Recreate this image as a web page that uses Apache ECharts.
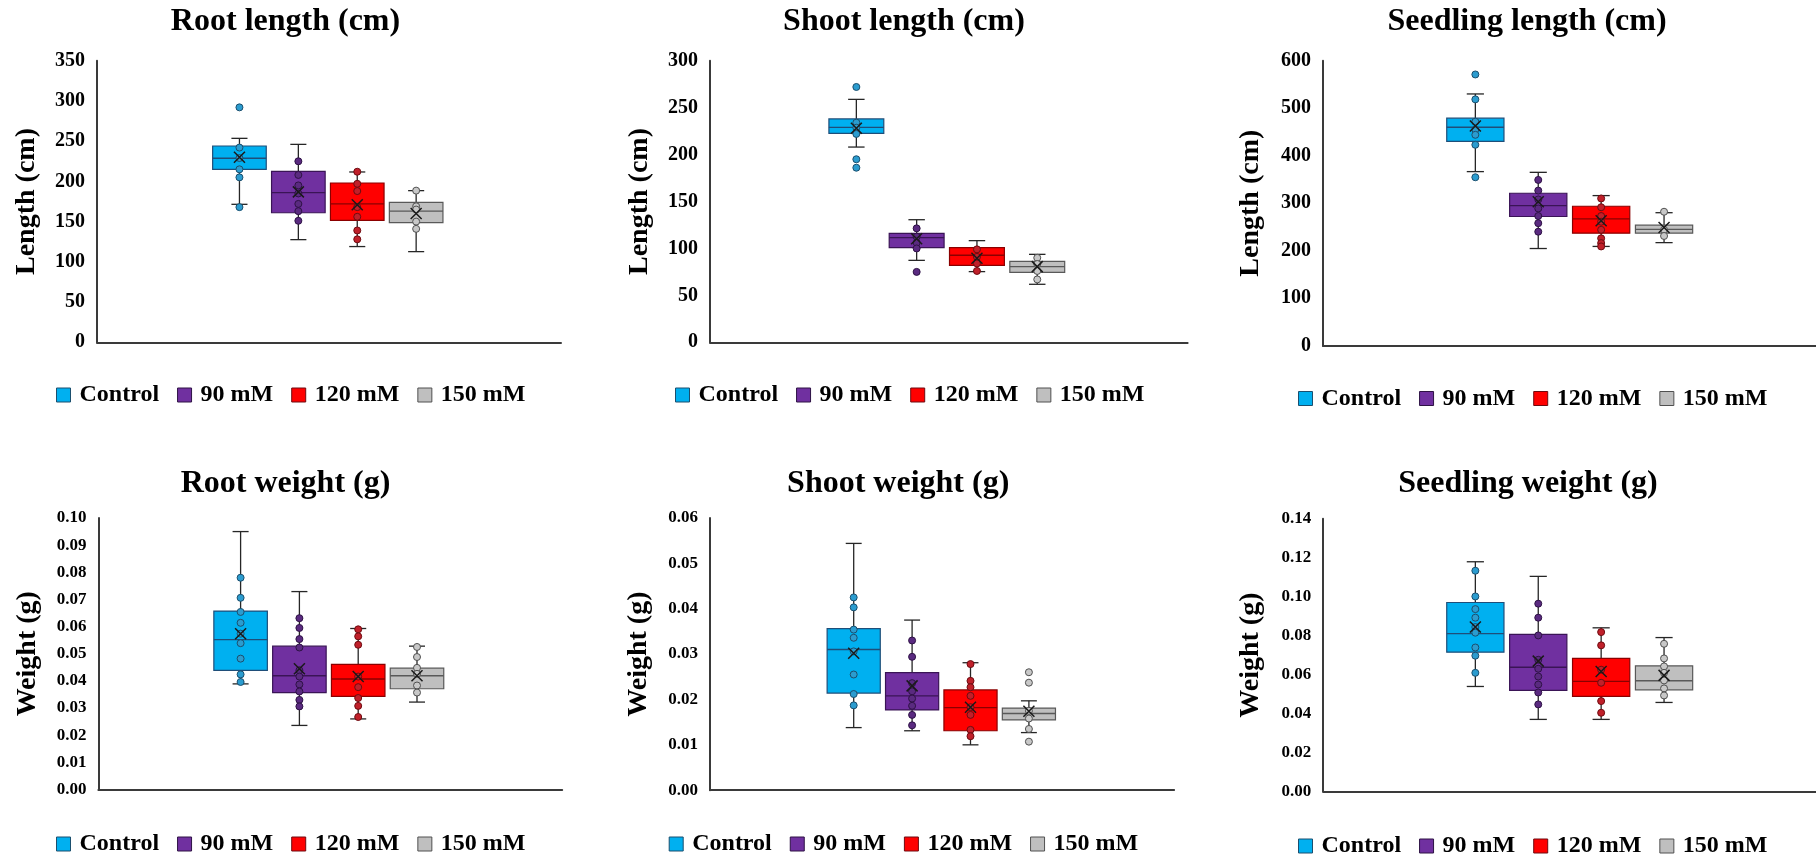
<!DOCTYPE html>
<html>
<head>
<meta charset="utf-8">
<script src="https://cdn.jsdelivr.net/npm/echarts@6/dist/echarts.min.js"></script>
<style>html,body{margin:0;padding:0;background:#fff;}#c{width:1816px;height:857px;}</style>
</head>
<body>
<div id="c"></div>
<script>
// ---------- DATA ----------
const groups = ['Control', '90 mM', '120 mM', '150 mM'];

// box: [lower whisker, Q1, median, Q3, upper whisker]
const rootLenBox = [[171.5, 215, 228.7, 244, 253.5], [127.6, 161, 186, 212.5, 246], [119, 151.6, 172, 198, 211.7], [112.7, 148.7, 163, 174, 188.5]];
const rootLenMean = [230, 187, 171, 160];
const rootLenPts = [[292, 242, 229, 215, 205, 168], [225, 208, 195, 185, 172, 163, 151], [212, 197, 188, 168, 156, 139, 128], [188.5, 169, 165, 150, 141]];

const shootLenBox = [[208, 222.6, 229, 238, 258.8], [87.3, 100.8, 111.5, 116, 130.6], [75.3, 82, 92.7, 100.8, 108.3], [61.8, 74.5, 80.6, 86.3, 93.7]];
const shootLenMean = [228, 110.4, 89.5, 80.6];
const shootLenPts = [[272, 234, 228.6, 222, 195, 186], [121.4, 112.5, 106, 100, 75], [99, 91, 84, 76], [90, 83.4, 76, 67]];

const seedLenBox = [[366.5, 430, 460, 479, 530], [204.6, 272, 295, 321, 365], [209, 237, 267, 293.6, 316], [217, 237, 245, 253.7, 280]];
const seedLenMean = [462.5, 303, 263, 249];
const seedLenPts = [[571, 518.6, 471.6, 455, 444, 423, 354.6], [349, 326.6, 308, 289, 273, 258, 240], [310, 291.5, 273, 261, 244, 226, 216, 209], [282, 244, 231]];

const rootWtBox = [[0.0389, 0.0439, 0.0552, 0.0657, 0.0950], [0.0236, 0.0357, 0.0419, 0.0528, 0.0729], [0.0260, 0.0343, 0.0407, 0.0461, 0.0593], [0.0322, 0.0371, 0.0419, 0.0447, 0.0528]];
const rootWtMean = [0.0574, 0.0445, 0.0416, 0.0419];
const rootWtPts = [[0.078, 0.0706, 0.0654, 0.0614, 0.0574, 0.0539, 0.0482, 0.0424, 0.0396], [0.0631, 0.0595, 0.0554, 0.0523, 0.0439, 0.0416, 0.0387, 0.0361, 0.033, 0.0306], [0.059, 0.0564, 0.0533, 0.0416, 0.0377, 0.0337, 0.0308, 0.0267], [0.0525, 0.0488, 0.0448, 0.0426, 0.0383, 0.0357]];

const shootWtBox = [[0.0138, 0.0214, 0.0310, 0.0356, 0.0544], [0.0131, 0.0177, 0.0208, 0.0259, 0.0375], [0.0100, 0.0131, 0.0182, 0.0221, 0.0281], [0.0127, 0.0155, 0.0169, 0.0181, 0.0197]];
const shootWtMean = [0.0302, 0.0230, 0.0183, 0.0174];
const shootWtPts = [[0.0425, 0.0403, 0.0354, 0.0336, 0.0306, 0.0255, 0.0212, 0.0187], [0.033, 0.0294, 0.0236, 0.0218, 0.0202, 0.0186, 0.0166, 0.0143], [0.0278, 0.0241, 0.0227, 0.0208, 0.0183, 0.0166, 0.0133, 0.0119], [0.026, 0.0237, 0.0175, 0.0158, 0.0135, 0.0107]];

const seedWtBox = [[0.0539, 0.0715, 0.0810, 0.0970, 0.1179], [0.0370, 0.0519, 0.0638, 0.0806, 0.1104], [0.0370, 0.0488, 0.0565, 0.0683, 0.0840], [0.0457, 0.0522, 0.0568, 0.0645, 0.0790]];
const seedWtMean = [0.0844, 0.0669, 0.0616, 0.0596];
const seedWtPts = [[0.1133, 0.1001, 0.0936, 0.0892, 0.0844, 0.0815, 0.0739, 0.0697, 0.0609], [0.0964, 0.0892, 0.0801, 0.0676, 0.063, 0.059, 0.0549, 0.0508, 0.0447], [0.0818, 0.075, 0.0625, 0.0558, 0.0464, 0.0404], [0.0758, 0.0683, 0.0642, 0.0609, 0.057, 0.0529, 0.0493]];

const titles = ['Root length (cm)', 'Shoot length (cm)', 'Seedling length (cm)', 'Root weight (g)', 'Shoot weight (g)', 'Seedling weight (g)'];
const axisNames = ['Length (cm)', 'Length (cm)', 'Length (cm)', 'Weight (g)', 'Weight (g)', 'Weight (g)'];
const yMax = [350, 300, 600, 0.10, 0.06, 0.14];
const yStep = [50, 50, 100, 0.01, 0.01, 0.02];
const yDecimals = [0, 0, 0, 2, 2, 2];

const panelData = [
  {box: rootLenBox, mean: rootLenMean, pts: rootLenPts},
  {box: shootLenBox, mean: shootLenMean, pts: shootLenPts},
  {box: seedLenBox, mean: seedLenMean, pts: seedLenPts},
  {box: rootWtBox, mean: rootWtMean, pts: rootWtPts},
  {box: shootWtBox, mean: shootWtMean, pts: shootWtPts},
  {box: seedWtBox, mean: seedWtMean, pts: seedWtPts}
];

// ---------- LAYOUT & STYLE ----------
const layouts = [
  {x0: 97, x1: 561, top: 60.7, bottom: 342.3, nl: 210, nw: 235.6, tx: 285.5, ty: 21.7, lx: 56, ly: 383, gap: 56, ls: 20},
  {x0: 710, x1: 1187.6, top: 60.7, bottom: 342.3, nl: 826.2, nw: 241.2, tx: 904, ty: 21.7, lx: 675, ly: 383, gap: 56, ls: 20},
  {x0: 1322.9, x1: 1816, top: 60.7, bottom: 345.7, nl: 1443.9, nw: 251.6, tx: 1527, ty: 21.7, lx: 1298, ly: 386.5, gap: 58, ls: 20},
  {x0: 98.4, x1: 562.2, top: 518, bottom: 789.5, nl: 211.2, nw: 235.2, tx: 285.5, ty: 483.5, lx: 56, ly: 832, gap: 57, ls: 17},
  {x0: 710, x1: 1174.1, top: 518, bottom: 790.2, nl: 824.5, nw: 233.6, tx: 898.2, ty: 483.5, lx: 668.7, ly: 832, gap: 57, ls: 17},
  {x0: 1323.2, x1: 1816, top: 518.7, bottom: 791.5, nl: 1443.9, nw: 251.6, tx: 1528, ty: 483.5, lx: 1298, ly: 834, gap: 58, ls: 17}
];

const FONT = "'Liberation Serif', 'Times New Roman', serif";
const FILLS = ['#00b0f0', '#7030a0', '#ff0000', '#bfbfbf'];
const BOX_BORDERS = ['#1f4e79', '#3a1456', '#8b0000', '#595959'];
const PT_FILLS = ['#2b9ccf', '#5a2a80', '#c0202a', '#c8c8c8'];
const PT_BORDERS = ['#1b4f6e', '#2e1245', '#6e0b10', '#505050'];
const WHISKER = '#262626';
const AXIS_COLOR = '#3a3a3a';
const BOX_FRAC = 0.91;

function makeRender(gi) {
  return function (params, api) {
    const xi = api.value(0);
    const pLo = api.coord([xi, api.value(1)]);
    const pQ1 = api.coord([xi, api.value(2)]);
    const pMed = api.coord([xi, api.value(3)]);
    const pQ3 = api.coord([xi, api.value(4)]);
    const pHi = api.coord([xi, api.value(5)]);
    const band = api.size([1, 0])[0];
    const bw = band * BOX_FRAC;
    const cap = bw * 0.3;
    const cx = pLo[0];
    const ls = {stroke: WHISKER, lineWidth: 1.3};
    return {
      type: 'group',
      children: [
        {type: 'line', shape: {x1: cx, y1: pHi[1], x2: cx, y2: pLo[1]}, style: ls},
        {type: 'line', shape: {x1: cx - cap / 2, y1: pHi[1], x2: cx + cap / 2, y2: pHi[1]}, style: ls},
        {type: 'line', shape: {x1: cx - cap / 2, y1: pLo[1], x2: cx + cap / 2, y2: pLo[1]}, style: ls},
        {type: 'rect', shape: {x: cx - bw / 2, y: pQ3[1], width: bw, height: pQ1[1] - pQ3[1]},
          style: {fill: FILLS[gi], stroke: BOX_BORDERS[gi], lineWidth: 1.2}},
        {type: 'line', shape: {x1: cx - bw / 2, y1: pMed[1], x2: cx + bw / 2, y2: pMed[1]},
          style: {stroke: BOX_BORDERS[gi], lineWidth: 1.4}}
      ]
    };
  };
}

const grid = [], xAxis = [], yAxis = [], series = [], title = [], legend = [];

layouts.forEach(function (L, p) {
  const A = 2 * p, B = 2 * p + 1;
  const h = L.bottom - L.top;
  grid.push({left: L.x0, top: L.top, width: L.x1 - L.x0, height: h, containLabel: false});
  grid.push({left: L.nl, top: L.top, width: L.nw, height: h, containLabel: false});

  xAxis.push({type: 'category', gridIndex: A, data: [''],
    axisLine: {show: true, lineStyle: {color: AXIS_COLOR, width: 2}},
    axisTick: {show: false}, axisLabel: {show: false}, splitLine: {show: false}});
  xAxis.push({type: 'category', gridIndex: B, data: groups, show: false});

  const dec = yDecimals[p];
  yAxis.push({type: 'value', gridIndex: A, min: 0, max: yMax[p], interval: yStep[p],
    name: axisNames[p], nameLocation: 'middle', nameRotate: 90, nameGap: L.gap,
    nameTextStyle: {fontFamily: FONT, fontWeight: 'bold', fontSize: 28, color: '#000'},
    axisLine: {show: true, lineStyle: {color: AXIS_COLOR, width: 2}},
    axisTick: {show: false}, splitLine: {show: false},
    axisLabel: {fontFamily: FONT, fontWeight: 'bold', fontSize: L.ls, color: '#000', margin: 12,
      formatter: function (v) { return Number(v).toFixed(dec); }}});
  yAxis.push({type: 'value', gridIndex: B, min: 0, max: yMax[p], show: false});

  const D = panelData[p];
  groups.forEach(function (g, gi) {
    series.push({type: 'custom', name: g, xAxisIndex: B, yAxisIndex: B, z: 2,
      renderItem: makeRender(gi), itemStyle: {color: FILLS[gi]},
      encode: {x: 0, y: [1, 2, 3, 4, 5]},
      data: [[gi].concat(D.box[gi])]});
    series.push({type: 'scatter', name: g, xAxisIndex: B, yAxisIndex: B, z: 3,
      symbol: 'circle', symbolSize: 7,
      itemStyle: {color: PT_FILLS[gi], borderColor: PT_BORDERS[gi], borderWidth: 1, opacity: 1},
      data: D.pts[gi].map(function (v) { return [gi, v]; })});
    series.push({type: 'scatter', name: g, xAxisIndex: B, yAxisIndex: B, z: 4,
      symbol: 'path://M0,0L10,10M10,0L0,10', symbolSize: 11,
      itemStyle: {color: 'rgba(0,0,0,0)', borderColor: '#1a1a1a', borderWidth: 1.5, opacity: 1},
      data: [[gi, D.mean[gi]]]});
  });

  title.push({text: titles[p], left: L.tx, top: L.ty, textAlign: 'center', textVerticalAlign: 'middle', padding: 0,
    textStyle: {fontFamily: FONT, fontWeight: 'bold', fontSize: 32, color: '#000'}});

  legend.push({left: L.lx, top: L.ly, padding: 0, orient: 'horizontal', itemGap: 18,
    itemWidth: 14, itemHeight: 14, icon: 'rect', selectedMode: false,
    textStyle: {fontFamily: FONT, fontWeight: 'bold', fontSize: 24, color: '#000', padding: [0, 0, 0, 4]},
    data: groups.map(function (g, gi) {
      return {name: g, itemStyle: {color: FILLS[gi], borderColor: PT_BORDERS[gi], borderWidth: 1}};
    })});
});

const chart = echarts.init(document.getElementById('c'), null, {renderer: 'canvas'});
chart.setOption({
  animation: false,
  backgroundColor: '#fff',
  title: title, legend: legend, grid: grid, xAxis: xAxis, yAxis: yAxis, series: series,
  tooltip: {show: false}
});
</script>
</body>
</html>
